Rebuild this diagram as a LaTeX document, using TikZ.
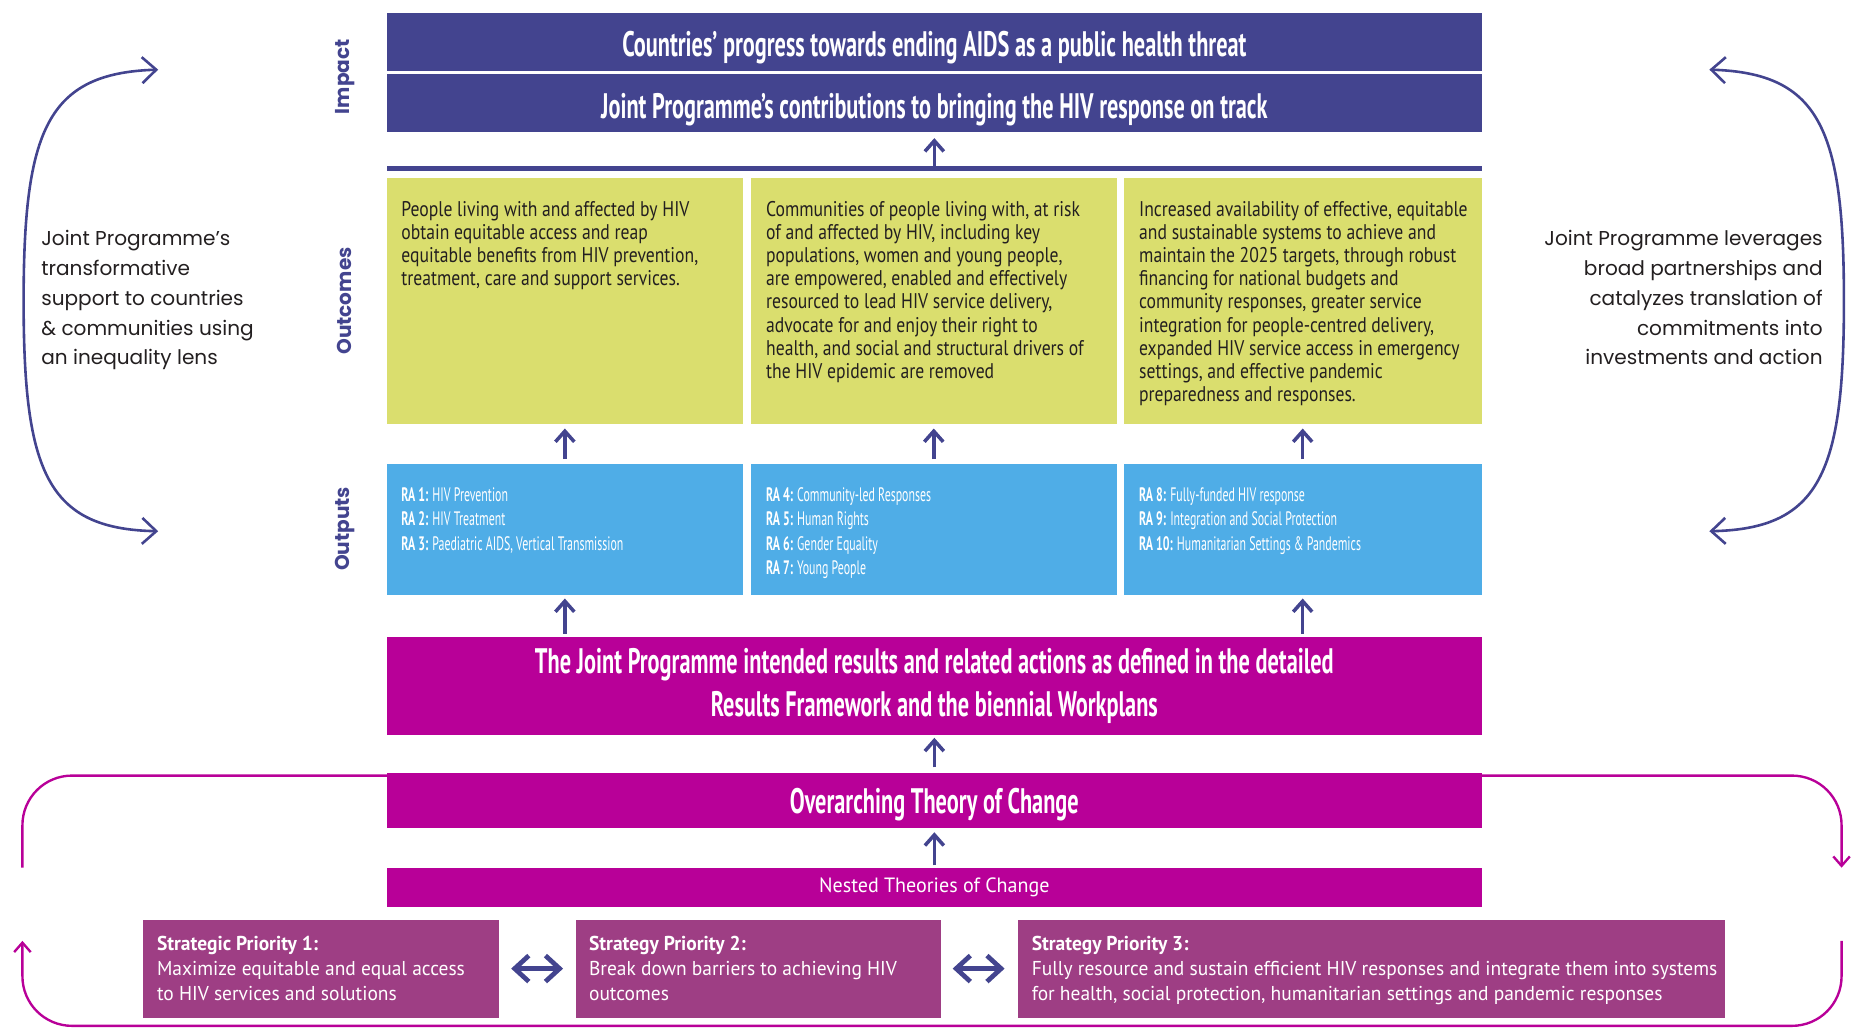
\documentclass[tikz,border=0pt]{standalone}
\usepackage{fontspec}
\usetikzlibrary{arrows.meta,positioning}
\setmainfont{PT Sans}
\newfontfamily\headfont[FakeStretch=0.63]{PT Sans}
\newfontfamily\bodyfont[FakeStretch=0.83]{PT Sans}
\newfontfamily\rafont[FakeStretch=0.61]{PT Sans}
\newfontfamily\spfont[FakeStretch=0.97]{PT Sans}
\newfontfamily\gothfont{Poppins}
\definecolor{impblue}{RGB}{67,68,143}
\definecolor{outyellow}{RGB}{218,222,110}
\definecolor{outblue}{RGB}{79,173,231}
\definecolor{resmag}{RGB}{184,0,152}
\definecolor{sppurple}{RGB}{158,62,132}
\definecolor{txtgray}{RGB}{35,31,32}
\tikzset{
  blk/.style={inner sep=0pt, outer sep=0pt},
  impbox/.style={blk, fill=impblue, text=white, minimum width=927, minimum height=49, text height=25pt, text depth=0pt, font=\headfont\bfseries\fontsize{30}{33}\selectfont},
  outcbox/.style={blk, fill=outyellow, minimum height=208.5},
  outpbox/.style={blk, fill=outblue, minimum height=111},
  magbox/.style={blk, fill=resmag, text=white, minimum width=927, align=center, font=\headfont\bfseries\fontsize{30}{36}\selectfont},
  spbox/.style={blk, fill=sppurple, minimum height=83},
  bodytext/.style={blk, anchor=north west, align=left, text=txtgray, font=\bodyfont\fontsize{18}{19.6}\selectfont},
  ratext/.style={blk, anchor=north west, align=left, text=white, font=\rafont\fontsize{16.5}{20.7}\selectfont},
  sptext/.style={blk, anchor=north west, align=left, text=white, font=\spfont\fontsize{17}{21}\selectfont},
  sidetext/.style={blk, text=txtgray, font=\gothfont\fontsize{17}{25.3}\selectfont},
  levellabel/.style={rotate=90, text=impblue, font=\gothfont\bfseries\fontsize{17}{20}\selectfont},
  uparrow/.style={->, draw=impblue, line width=3pt},
  dblarrow/.style={<->, draw=impblue, line width=4pt, >={Straight Barb[length=12pt,width=22pt]}},
  cyclearrow/.style={<->, draw=impblue, line width=2.2pt, >={Straight Barb[length=12pt,width=22pt]}},
  loopline/.style={draw=resmag, line width=2pt, rounded corners=42pt, >={Straight Barb[length=8pt,width=14pt]}},
}
\begin{document}
\begin{tikzpicture}[x=1pt, y=-1pt, >={Straight Barb[length=9pt,width=16pt]}]
  \useasboundingbox (0,0) rectangle (1568,872);

  % Impact
  \node[impbox] (imp1) at (791.5,35.5) {Countries’ progress towards ending AIDS as a public health threat};
  \node[impbox] (imp2) at (791.5,87.5) {Joint Programme’s contributions to bringing the HIV response on track};
  \node[blk, fill=impblue, minimum width=927, minimum height=4] (bar) at (791.5,143) {};
  \draw[uparrow, shorten >=5pt] (bar.north) -- (imp2.south);

  % Outcomes
  \node[outcbox, minimum width=301] (oc1) at (478.5,254.75) {};
  \node[outcbox, minimum width=310] (oc2) at (791,254.75) {};
  \node[outcbox, minimum width=303] (oc3) at (1103.5,254.75) {};
  \node[bodytext] (oc1t) at ([xshift=12pt,yshift=-20pt]oc1.north west)
    {People living with and affected by HIV\\obtain equitable access and reap\\equitable benefits from HIV prevention,\\treatment, care and support services.};
  \node[bodytext] (oc2t) at ([xshift=13pt,yshift=-20pt]oc2.north west)
    {Communities of people living with, at risk\\of and affected by HIV, including key\\populations, women and young people,\\are empowered, enabled and effectively\\resourced to lead HIV service delivery,\\advocate for and enjoy their right to\\health, and social and structural drivers of\\the HIV epidemic are removed};
  \node[bodytext] (oc3t) at ([xshift=13pt,yshift=-20pt]oc3.north west)
    {Increased availability of effective, equitable\\and sustainable systems to achieve and\\maintain the 2025 targets, through robust\\financing for national budgets and\\community responses, greater service\\integration for people-centred delivery,\\expanded HIV service access in emergency\\settings, and effective pandemic\\preparedness and responses.};

  % Outputs
  \node[outpbox, minimum width=301] (op1) at (478.5,448.5) {};
  \node[outpbox, minimum width=310] (op2) at (791,448.5) {};
  \node[outpbox, minimum width=303] (op3) at (1103.5,448.5) {};
  \node[ratext] (op1t) at ([xshift=12pt,yshift=-20pt]op1.north west)
    {\textbf{RA 1:} HIV Prevention\\\textbf{RA 2:} HIV Treatment\\\textbf{RA 3:} Paediatric AIDS, Vertical Transmission};
  \node[ratext] (op2t) at ([xshift=13pt,yshift=-20pt]op2.north west)
    {\textbf{RA 4:} Community-led Responses\\\textbf{RA 5:} Human Rights\\\textbf{RA 6:} Gender Equality\\\textbf{RA 7:} Young People};
  \node[ratext] (op3t) at ([xshift=13pt,yshift=-20pt]op3.north west)
    {\textbf{RA 8:} Fully-funded HIV response\\\textbf{RA 9:} Integration and Social Protection\\\textbf{RA 10:} Humanitarian Settings \& Pandemics};
  \foreach \i in {1,2,3}
    \draw[uparrow, shorten <=4pt, shorten >=4pt] (op\i.north) -- (oc\i.south);

  % Results framework and theories of change
  \node[magbox, minimum height=83] (res) at (791.5,581)
    {The Joint Programme intended results and related actions as defined in the detailed\\Results Framework and the biennial Workplans};
  \draw[uparrow, shorten <=2.5pt, shorten >=3pt] (res.north -| op1) -- (op1.south);
  \draw[uparrow, shorten <=2.5pt, shorten >=3pt] (res.north -| op3) -- (op3.south);
  \node[magbox, minimum height=46, text height=22pt, text depth=0pt] (toc) at (791.5,678) {Overarching Theory of Change};
  \draw[uparrow, shorten <=5pt, shorten >=2.5pt] (toc.north) -- (res.south);
  \node[magbox, minimum height=33, font=\spfont\fontsize{17.5}{20}\selectfont] (nest) at (791.5,751.5) {Nested Theories of Change};
  \draw[uparrow, shorten <=2pt, shorten >=4pt] (nest.north) -- (toc.south);

  % Strategic priorities
  \node[spbox, minimum width=302] (sp1) at (272,820.5) {};
  \node[spbox, minimum width=309] (sp2) at (642.5,820.5) {};
  \node[spbox, minimum width=599] (sp3) at (1161.5,820.5) {};
  \node[sptext] (sp1t) at ([xshift=12pt,yshift=-14pt]sp1.north west)
    {\textbf{Strategic Priority 1:}\\Maximize equitable and equal access\\to HIV services and solutions};
  \node[sptext] (sp2t) at ([xshift=11pt,yshift=-14pt]sp2.north west)
    {\textbf{Strategy Priority 2:}\\Break down barriers to achieving HIV\\outcomes};
  \node[sptext] (sp3t) at ([xshift=12pt,yshift=-14pt]sp3.north west)
    {\textbf{Strategy Priority 3:}\\Fully resource and sustain efficient HIV responses and integrate them into systems\\for health, social protection, humanitarian settings and pandemic responses};
  \draw[dblarrow, shorten <=10pt, shorten >=11pt] (sp1.east) -- (sp2.west);
  \draw[dblarrow, shorten <=10pt, shorten >=11pt] (sp2.east) -- (sp3.west);

  % Magenta loop
  \coordinate (loopLtop) at (19,735);
  \coordinate (loopRtop) at (1560,735);
  \coordinate (loopRbot) at (1560,797);
  \coordinate (loopLbot) at (19,797);
  \coordinate (loopLcorner) at (19,869);
  \draw[loopline] ([yshift=-2pt]toc.north west) -| (loopLtop);
  \draw[loopline, ->] ([yshift=-2pt]toc.north east) -| (loopRtop);
  \draw[loopline, ->] (loopRbot) |- (loopLcorner) -- (loopLbot);

  % Side cycles
  \coordinate (lcTop) at (134,59);
  \coordinate (lcBot) at (134,450);
  \coordinate (rcTop) at (1448,59);
  \coordinate (rcBot) at (1448,450);
  \draw[cyclearrow] (lcTop) .. controls (40,62) and (20,110) .. (20,255) .. controls (20,400) and (40,448) .. (lcBot);
  \draw[cyclearrow] (rcTop) .. controls (1542,62) and (1562,110) .. (1562,255) .. controls (1562,400) and (1542,448) .. (rcBot);
  \node[sidetext, anchor=north west, align=left] (ltext) at (35,195)
    {Joint Programme’s\\transformative\\support to countries\\\& communities using\\an inequality lens};
  \node[sidetext, anchor=north east, align=right] (rtext) at (1544,195)
    {Joint Programme leverages\\broad partnerships and\\catalyzes translation of\\commitments into\\investments and action};

  % Level labels
  \node[levellabel] (lblimp) at (292,65) {Impact};
  \node[levellabel] (lbloc) at (292,255) {Outcomes};
  \node[levellabel] (lblop) at (292,448) {Outputs};
\end{tikzpicture}
\end{document}
